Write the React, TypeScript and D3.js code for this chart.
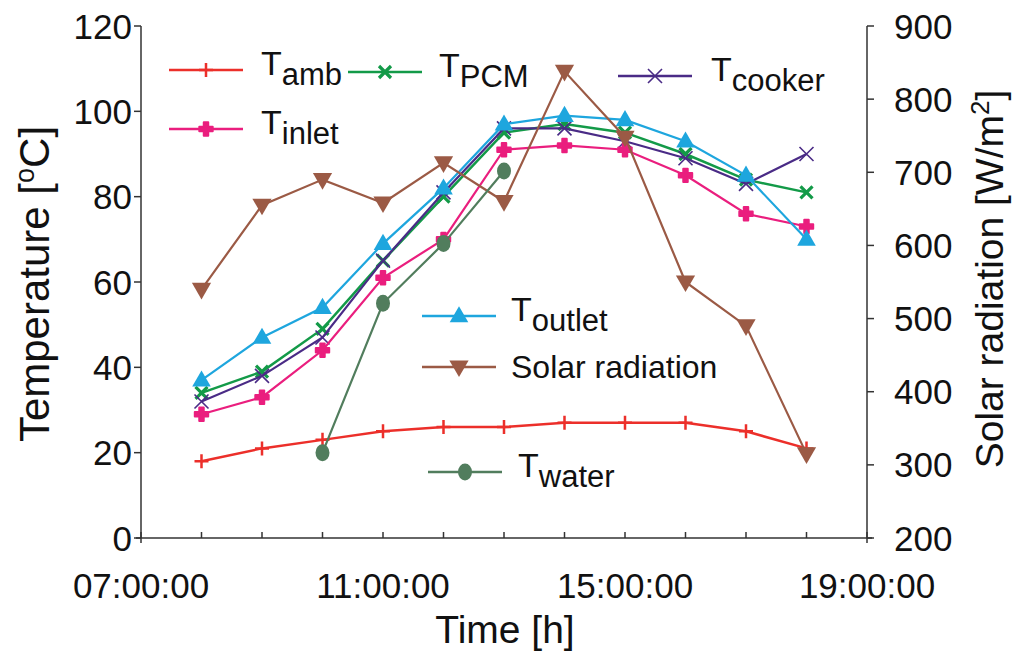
import React from "react";
import * as d3 from "d3";

const hours = [8, 9, 10, 11, 12, 13, 14, 15, 16, 17, 18];
const tAmb = [18, 21, 23, 25, 26, 26, 27, 27, 27, 25, 21];
const tPCM = [34, 39, 49, 65, 80, 95, 97, 95, 90, 84, 81];
const tCooker = [32, 38, 47, 65, 81, 96, 96, 93, 89, 83, 90];
const tInlet = [29, 33, 44, 61, 70, 91, 92, 91, 85, 76, 73];
const tOutlet = [37, 47, 54, 69, 82, 97, 99, 98, 93, 85, 70];
const waterHours = [10, 11, 12, 13];
const tWater = [20, 55, 69, 86];
const solar = [540, 655, 690, 658, 713, 660, 838, 748, 550, 490, 315];

const leftTicks = [0, 20, 40, 60, 80, 100, 120];
const rightTicks = [200, 300, 400, 500, 600, 700, 800, 900];
const xMajor = [7, 11, 15, 19];
const xMinor = [7, 8, 9, 10, 11, 12, 13, 14, 15, 16, 17, 18, 19];
const xLabels = ["07:00:00", "11:00:00", "15:00:00", "19:00:00"];

const C = {
  amb: "#ec2f2a",
  pcm: "#139a48",
  cooker: "#4a2b86",
  inlet: "#ea1e7e",
  outlet: "#1ea6de",
  solar: "#9b5a45",
  water: "#517d5d",
};

const FONT = "'Liberation Sans', Arial, Helvetica, sans-serif";
const AX = "#333";

type MK = "plus" | "x" | "xthin" | "fplus" | "tri" | "tridown" | "dot";

function Marker({ type, x, y, color }: { type: MK; x: number; y: number; color: string }) {
  const t = `translate(${x},${y})`;
  if (type === "plus")
    return <path transform={t} d="M-7,0H7M0,-7V7" stroke={color} strokeWidth={2.5} fill="none" />;
  if (type === "x")
    return <path transform={t} d="M-6,-6L6,6M-6,6L6,-6" stroke={color} strokeWidth={3.2} fill="none" />;
  if (type === "xthin")
    return <path transform={t} d="M-7,-7L7,7M-7,7L7,-7" stroke={color} strokeWidth={1.6} fill="none" />;
  if (type === "fplus")
    return <path transform={t} d={d3.symbol(d3.symbolCross, 100)() || ""} fill={color} stroke={color} strokeWidth={2} strokeLinejoin="round" />;
  if (type === "tri")
    return <path transform={t + " translate(0,1)"} d={d3.symbol(d3.symbolTriangle, 150)() || ""} fill={color} />;
  if (type === "tridown")
    return <path transform={t + " rotate(180) translate(0,1)"} d={d3.symbol(d3.symbolTriangle, 160)() || ""} fill={color} />;
  return <ellipse cx={x} cy={y} rx={7} ry={8.5} fill={color} />;
}

export default function App() {
  const W = 1019, H = 657;
  const x = d3.scaleLinear().domain([7, 19]).range([141, 867]);
  const yL = d3.scaleLinear().domain([0, 120]).range([538, 26]);
  const yR = d3.scaleLinear().domain([200, 900]).range([538, 26]);

  const series: { vals: number[]; hrs: number[]; color: string; mk: MK; right?: boolean; w: number }[] = [
    { vals: tAmb, hrs: hours, color: C.amb, mk: "plus", w: 2.5 },
    { vals: tPCM, hrs: hours, color: C.pcm, mk: "x", w: 2.5 },
    { vals: tCooker, hrs: hours, color: C.cooker, mk: "xthin", w: 2.2 },
    { vals: tInlet, hrs: hours, color: C.inlet, mk: "fplus", w: 2.2 },
    { vals: tOutlet, hrs: hours, color: C.outlet, mk: "tri", w: 2.2 },
    { vals: solar, hrs: hours, color: C.solar, mk: "tridown", right: true, w: 2.2 },
    { vals: tWater, hrs: waterHours, color: C.water, mk: "dot", w: 2.2 },
  ];

  const legend: { color: string; mk: MK; x1: number; y: number; main: string; sub?: string; tx: number }[] = [
    { color: C.amb, mk: "plus", x1: 169, y: 70, main: "T", sub: "amb", tx: 261 },
    { color: C.pcm, mk: "x", x1: 348, y: 72, main: "T", sub: "PCM", tx: 439 },
    { color: C.cooker, mk: "xthin", x1: 618, y: 76, main: "T", sub: "cooker", tx: 711 },
    { color: C.inlet, mk: "fplus", x1: 169, y: 129, main: "T", sub: "inlet", tx: 261 },
    { color: C.outlet, mk: "tri", x1: 422, y: 316, main: "T", sub: "outlet", tx: 511 },
    { color: C.solar, mk: "tridown", x1: 422, y: 367, main: "Solar radiation", tx: 511 },
    { color: C.water, mk: "dot", x1: 428, y: 472, main: "T", sub: "water", tx: 518 },
  ];

  return (
    <svg width={W} height={H} style={{ position: "absolute", left: 0, top: 0, background: "#fff" }} fontFamily={FONT}>
      {/* axes */}
      <line x1={141} x2={141} y1={26} y2={543} stroke={AX} strokeWidth={1.5} />
      <line x1={867} x2={867} y1={26} y2={543} stroke={AX} strokeWidth={1.5} />
      <line x1={136} x2={872} y1={538} y2={538} stroke={AX} strokeWidth={1.5} />
      {leftTicks.map((v) => (
        <g key={"l" + v}>
          <line x1={134} x2={141} y1={yL(v)} y2={yL(v)} stroke={AX} strokeWidth={1.5} />
          <text x={132} y={yL(v) + 12.5} fontSize={35} textAnchor="end" fill="#111">{v}</text>
        </g>
      ))}
      {rightTicks.map((v) => (
        <g key={"r" + v}>
          <line x1={867} x2={874} y1={yR(v)} y2={yR(v)} stroke={AX} strokeWidth={1.5} />
          <text x={894} y={yR(v) + 12.5} fontSize={35} textAnchor="start" fill="#111">{v}</text>
        </g>
      ))}
      {xMinor.map((h) => (
        <line key={"m" + h} x1={x(h)} x2={x(h)} y1={538} y2={532} stroke={AX} strokeWidth={1.5} />
      ))}
      {xMajor.map((h, i) => (
        <text key={"x" + h} x={x(h)} y={598} fontSize={35} textAnchor="middle" fill="#111">{xLabels[i]}</text>
      ))}
      <text x={505} y={643} fontSize={39} textAnchor="middle" fill="#111">Time [h]</text>
      <text transform="translate(49,284) rotate(-90)" fontSize={42} textAnchor="middle" fill="#111">
        Temperature [<tspan fontSize={27} dy={-15}>o</tspan><tspan dy={15}>C]</tspan>
      </text>
      <text transform="translate(1003,279) rotate(-90)" fontSize={39} textAnchor="middle" fill="#111">
        Solar radiation [W/m<tspan fontSize={26} dy={-14}>2</tspan><tspan dy={14}>]</tspan>
      </text>

      {/* series */}
      {series.map((s, si) => {
        const ys = s.right ? yR : yL;
        const pts: [number, number][] = s.vals.map((v, i) => [x(s.hrs[i]), ys(v)]);
        const line = d3.line()(pts) || "";
        return (
          <g key={"s" + si}>
            <path d={line} fill="none" stroke={s.color} strokeWidth={s.w} />
            {pts.map((p, i) => (
              <Marker key={i} type={s.mk} x={p[0]} y={p[1]} color={s.color} />
            ))}
          </g>
        );
      })}

      {/* legend */}
      {legend.map((l, i) => (
        <g key={"lg" + i}>
          <line x1={l.x1} x2={l.x1 + 74} y1={l.y} y2={l.y} stroke={l.color} strokeWidth={2.5} />
          <Marker type={l.mk} x={l.x1 + 37} y={l.y} color={l.color} />
          {l.sub ? (
            <text x={l.tx} y={l.y + 5} fontSize={34} fill="#111">
              {l.main}
              <tspan fontSize={31} dy={10}>{l.sub}</tspan>
            </text>
          ) : (
            <text x={l.tx} y={l.y + 11} fontSize={32} fill="#111">{l.main}</text>
          )}
        </g>
      ))}
    </svg>
  );
}
